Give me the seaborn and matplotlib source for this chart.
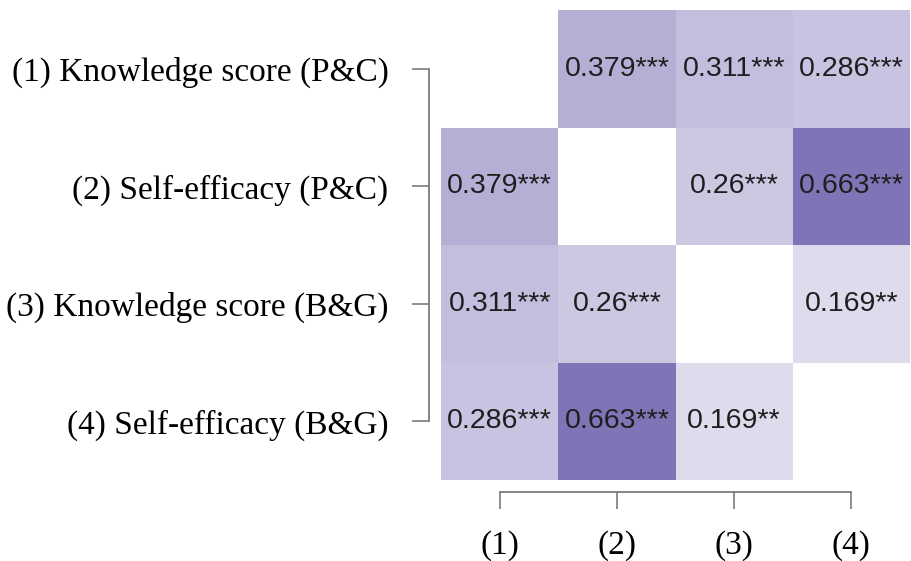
import numpy as np
import pandas as pd
import matplotlib
matplotlib.use("Agg")
import matplotlib.pyplot as plt
from matplotlib.colors import LinearSegmentedColormap
import seaborn as sns

# ---- data ----
row_labels = ["(1) Knowledge score (P&C)", "(2) Self-efficacy (P&C)",
              "(3) Knowledge score (B&G)", "(4) Self-efficacy (B&G)"]
col_labels = ["(1)", "(2)", "(3)", "(4)"]
corr_row1 = [np.nan, 0.379, 0.311, 0.286]
corr_row2 = [0.379, np.nan, 0.26, 0.663]
corr_row3 = [0.311, 0.26, np.nan, 0.169]
corr_row4 = [0.286, 0.663, 0.169, np.nan]
stars_row1 = ["", "***", "***", "***"]
stars_row2 = ["***", "", "***", "***"]
stars_row3 = ["***", "***", "", "**"]
stars_row4 = ["***", "***", "**", ""]

corr = pd.DataFrame([corr_row1, corr_row2, corr_row3, corr_row4],
                    index=row_labels, columns=col_labels)
stars = [stars_row1, stars_row2, stars_row3, stars_row4]
annot = np.array([["" if np.isnan(v) else f"{v:g}{s}" for v, s in zip(r, sr)]
                  for r, sr in zip(corr.values, stars)])

sns.set_style("white")
fig = plt.figure(figsize=(9.11, 5.61), dpi=100)
ax = fig.add_axes([441 / 911, 1 - 480 / 561, 469 / 911, 470 / 561])

cmap = LinearSegmentedColormap.from_list("pur", ["#ffffff", "#7f74b6"])
sns.heatmap(corr, ax=ax, cmap=cmap, vmin=0, vmax=0.663, cbar=False,
            annot=annot, fmt="", linewidths=0,
            annot_kws={"fontsize": 20.5, "color": "#1e1e1e",
                       "family": "Liberation Sans"})

for side in ["left", "bottom"]:
    sp = ax.spines[side]
    sp.set_visible(True)
    sp.set_color("#707070")
    sp.set_linewidth(1.2)
    sp.set_bounds(0.5, 3.5)
ax.spines["left"].set_position(("outward", 8.3))
ax.spines["bottom"].set_position(("outward", 8.6))
for side in ["top", "right"]:
    ax.spines[side].set_visible(False)

ax.tick_params(axis="both", which="major", length=12.5, width=1.1,
               color="#707070", direction="out", left=True, bottom=True)
ax.tick_params(axis="y", pad=17)
ax.tick_params(axis="x", pad=15)
ax.set_yticklabels(row_labels, rotation=0, fontsize=24,
                   family="Liberation Serif", color="black")
ax.set_xticklabels(col_labels, rotation=0, fontsize=24,
                   family="Liberation Serif", color="black")
ax.set_xlabel("")
ax.set_ylabel("")

fig.savefig("out.png", dpi=100)
